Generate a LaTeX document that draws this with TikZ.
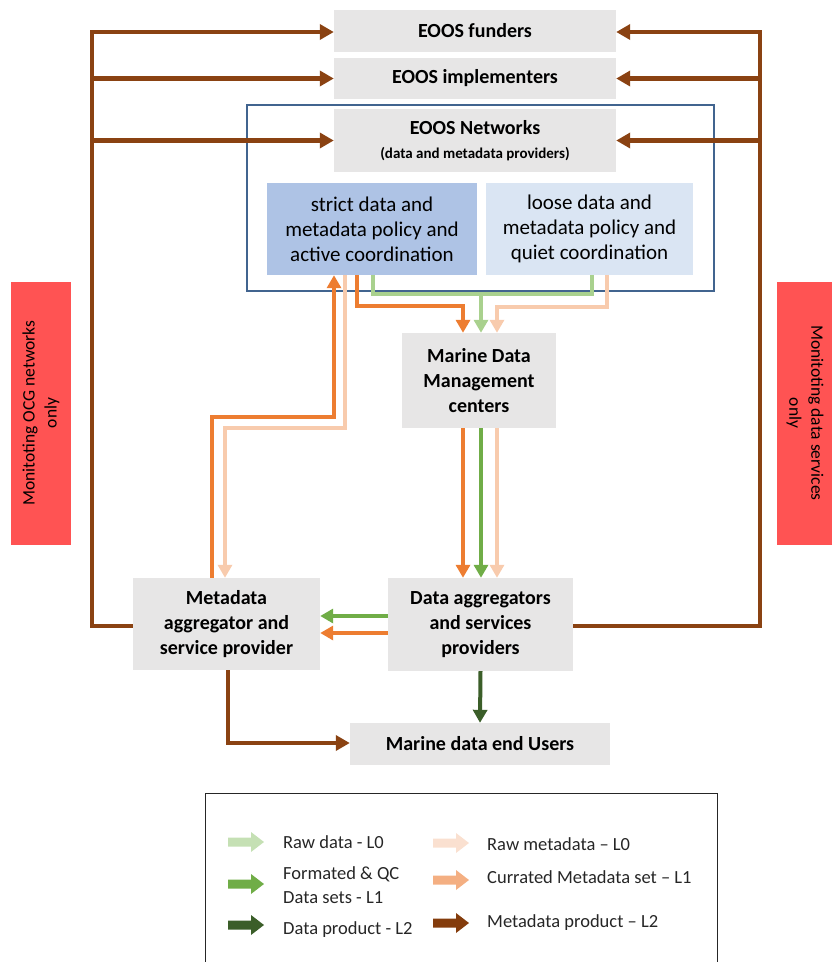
\documentclass[tikz,border=0pt]{standalone}
\usepackage{fontspec}
\setmainfont{Carlito}
\usetikzlibrary{arrows.meta}
\definecolor{boxgray}{HTML}{E7E6E6}
\definecolor{strictblue}{HTML}{AEC3E5}
\definecolor{looseblue}{HTML}{DAE5F3}
\definecolor{frameblue}{HTML}{41648F}
\definecolor{redbox}{HTML}{FF5353}
\definecolor{brownL}{HTML}{8A4212}
\definecolor{orangeL}{HTML}{ED7D31}
\definecolor{peachL}{HTML}{F8CBAD}
\definecolor{greenA}{HTML}{A9D18E}
\definecolor{greenB}{HTML}{70AD47}
\definecolor{greenC}{HTML}{3B5E29}
\definecolor{legGreenA}{HTML}{C5E0B4}
\definecolor{legPeach}{HTML}{FAE0D0}
\definecolor{legOrange}{HTML}{F4AF82}
\definecolor{legBrown}{HTML}{843C0C}
\newcommand\legarrow[3]{\fill[#3] (#1,#2-4.5) -- (#1+23,#2-4.5) -- (#1+23,#2-10) -- (#1+36,#2) -- (#1+23,#2+10) -- (#1+23,#2+4.5) -- (#1,#2+4.5) -- cycle;}
\begin{document}
\begin{tikzpicture}[x=1pt,y=-1pt,
  graybox/.style={fill=boxgray, draw=none, align=center, inner sep=0pt,
    font=\fontsize{20}{25}\selectfont\bfseries},
  policy/.style={draw=none, align=center, inner sep=0pt,
    font=\fontsize{21}{25}\selectfont},
  redside/.style={fill=redbox, draw=none, align=center, inner sep=0pt,
    font=\fontsize{17.5}{22}\selectfont},
  legtext/.style={anchor=west, align=left, inner sep=0pt, text=black!85,
    font=\fontsize{18.5}{24}\selectfont},
  brn/.style={draw=brownL, line width=4.5pt, -{Triangle[width=15pt,length=14pt]}},
  flow/.style={line width=4pt, -{Triangle[width=14pt,length=13pt]}},
  plain/.style={line width=4pt}
]
\useasboundingbox (0,0) rectangle (832,962);

% side labels
\node[redside, minimum width=263pt, minimum height=60pt, rotate=90] (redL) at (41,413) {Monitoting OCG networks\\only};
\node[redside, minimum width=263pt, minimum height=56pt, rotate=-90] (redR) at (805,413) {Monitoting data services\\only};

% boxes
\node[draw=frameblue, line width=1.2pt, minimum width=467pt, minimum height=186pt, inner sep=0pt] (cont) at (480.5,198) {};
\node[graybox, minimum width=282pt, minimum height=42pt] (fund) at (475,31) {EOOS funders};
\node[graybox, minimum width=282pt, minimum height=41pt] (impl) at (475,78.5) {EOOS implementers};
\node[graybox, minimum width=282pt, minimum height=63pt] (netw) at (475,140.5) {EOOS Networks\\[-1pt]{\fontsize{15}{18}\selectfont(data and metadata providers)}};
\node[policy, fill=strictblue, minimum width=210pt, minimum height=92pt] (strict) at (372,229) {strict data and\\metadata policy and\\active coordination};
\node[policy, fill=looseblue, minimum width=207pt, minimum height=92pt] (loose) at (589.5,229) {loose data and\\metadata policy and\\quiet coordination};
\node[graybox, minimum width=154pt, minimum height=95pt] (mdm) at (479,380.5) {Marine Data\\Management\\centers};
\node[graybox, minimum width=185pt, minimum height=93pt] (dagg) at (480.5,624.5) {Data aggregators\\and services\\providers};
\node[graybox, minimum width=187pt, minimum height=92pt] (magg) at (226.5,624) {Metadata\\aggregator and\\service provider};
\node[graybox, minimum width=260pt, minimum height=42pt] (users) at (480,744) {Marine data end Users};

% brown metadata-product connectors
\coordinate (LT) at (92,32);
\coordinate (LB) at (92,626);
\coordinate (RT) at (760,32);
\coordinate (RB) at (760,626);
\draw[brn] (magg.west |- LB) -- (LB) -- (LT) -- (fund.west |- LT);
\draw[brn] (LT |- impl.west) -- (impl.west);
\draw[brn] (LT |- netw.west) -- (netw.west);
\draw[brn] (dagg.east |- RB) -- (RB) -- (RT) -- (fund.east |- RT);
\draw[brn] (RT |- impl.east) -- (impl.east);
\draw[brn] (RT |- netw.east) -- (netw.east);
\coordinate (MU) at (228,743);
\draw[brn] (magg.south -| MU) -- (MU) -- (users.west |- MU);

% data product
\draw[flow, draw=greenC] (dagg.south) -- (users.north);

% aggregators -> metadata aggregator
\coordinate (GA) at (0,616);
\coordinate (OA) at (0,633);
\draw[flow, draw=greenB] (dagg.west |- GA) -- (magg.east |- GA);
\draw[flow, draw=orangeL] (dagg.west |- OA) -- (magg.east |- OA);

% MDM -> data aggregators
\coordinate (xo) at (463,0);
\coordinate (xg) at (481,0);
\coordinate (xp) at (497,0);
\draw[flow, draw=orangeL] (mdm.south -| xo) -- (dagg.north -| xo);
\draw[flow, draw=greenB] (mdm.south -| xg) -- (dagg.north -| xg);
\draw[flow, draw=peachL] (mdm.south -| xp) -- (dagg.north -| xp);

% networks -> MDM
\coordinate (O1) at (357,306);
\draw[flow, draw=orangeL] (strict.south -| O1) -- (O1) -| (mdm.north -| xo);
\coordinate (G1) at (373,294);
\coordinate (G2) at (592,294);
\draw[plain, draw=greenA] (strict.south -| G1) -- (G1) -- (G2) -- (loose.south -| G2);
\draw[flow, draw=greenA] (xg |- G1) -- (mdm.north -| xg);
\coordinate (P1) at (607,307);
\draw[flow, draw=peachL] (loose.south -| P1) -- (P1) -| (mdm.north -| xp);

% metadata aggregator <-> strict networks
\coordinate (O2) at (212,417);
\coordinate (O3) at (334,417);
\draw[flow, draw=orangeL] (magg.north -| O2) -- (O2) -- (O3) -- (strict.south -| O3);
\coordinate (P2) at (345,428);
\coordinate (P3) at (225,428);
\draw[flow, draw=peachL] (strict.south -| P2) -- (P2) -- (P3) -- (magg.north -| P3);

% legend
\node[draw=black!85, line width=1.3pt, minimum width=512pt, minimum height=190pt, anchor=north west, inner sep=0pt] (legend) at (205,793) {};
\legarrow{228}{842}{legGreenA}
\legarrow{228}{884}{greenB}
\legarrow{228}{925}{greenC}
\legarrow{433}{843}{legPeach}
\legarrow{433}{880}{legOrange}
\legarrow{433}{923}{legBrown}
\node[legtext] (l1) at (283,842) {Raw data - L0};
\node[legtext] (l2) at (283,885) {Formated \& QC\\Data sets - L1};
\node[legtext] (l3) at (283,930) {Data product - L2};
\node[legtext] (l4) at (487,844) {Raw metadata – L0};
\node[legtext] (l5) at (487,877) {Currated Metadata set – L1};
\node[legtext] (l6) at (487,923) {Metadata product – L2};
\end{tikzpicture}
\end{document}
